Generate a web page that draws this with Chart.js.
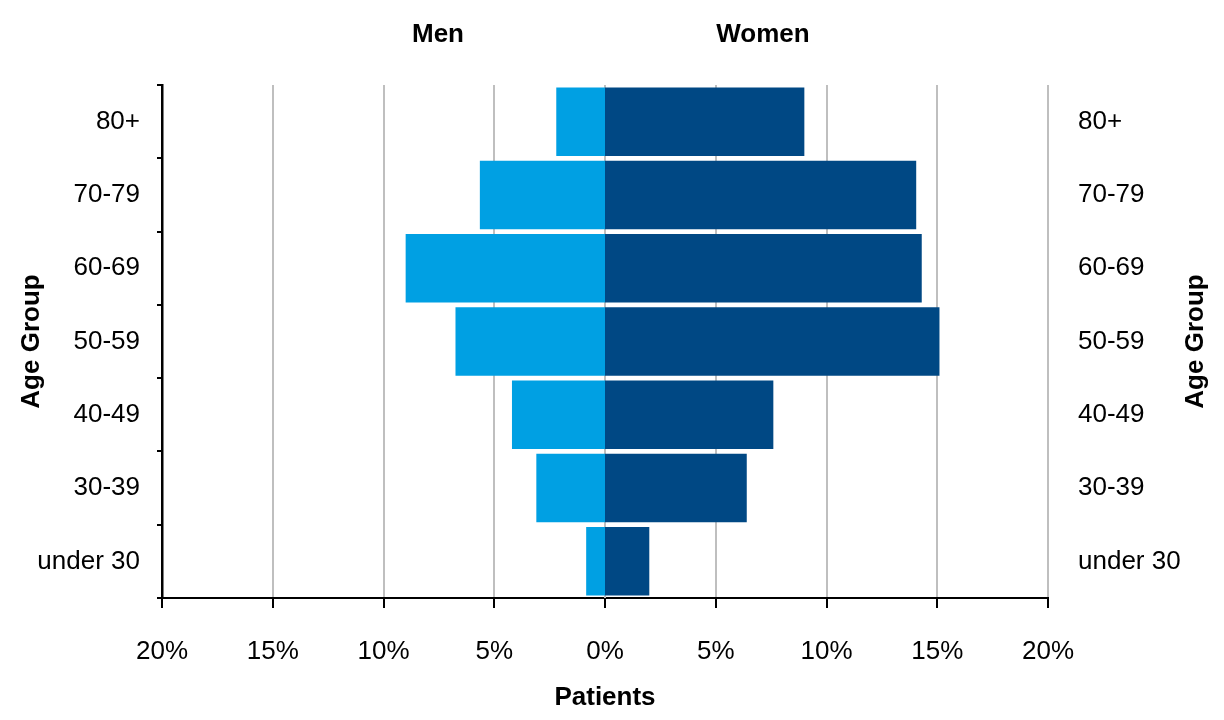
<!DOCTYPE html>
<html>
<head>
<meta charset="utf-8">
<script src="https://cdn.jsdelivr.net/npm/chart.js@4/dist/chart.umd.min.js"></script>
<style>
  html, body { margin: 0; padding: 0; background: #fff; }
  #wrap { width: 1224px; height: 720px; position: relative; }
</style>
</head>
<body>
<div id="wrap"><canvas id="pyramid"></canvas></div>
<script>
// Age groups, top to bottom
const ageGroups = ['80+', '70-79', '60-69', '50-59', '40-49', '30-39', 'under 30'];
// Share of patients (%) per age group
const menShare   = [2.2, 5.65, 9.0, 6.75, 4.2, 3.1, 0.85];
const womenShare = [9.0, 14.05, 14.3, 15.1, 7.6, 6.4, 2.0];
// Axis ticks (%)
const xTicks = [-20, -15, -10, -5, 0, 5, 10, 15, 20];

const FONT = 'Liberation Sans, Arial, Helvetica, sans-serif';
const GRID_GREY = '#BFBFBF';

// The 0% grid line sits behind the bars; drawn here so the bars meet at zero without a seam
const zeroLinePlugin = {
  id: 'zeroLine',
  beforeDatasetsDraw(chart) {
    const { ctx, chartArea, scales } = chart;
    const x0 = Math.round(scales.x.getPixelForValue(0));
    ctx.save();
    ctx.strokeStyle = GRID_GREY;
    ctx.lineWidth = 2;
    ctx.beginPath();
    ctx.moveTo(x0, chartArea.top);
    ctx.lineTo(x0, chartArea.bottom);
    ctx.stroke();
    ctx.restore();
  }
};

// Side headings above the pyramid and the mirrored axis title on the right
const headingsPlugin = {
  id: 'headings',
  afterDraw(chart) {
    const { ctx, chartArea } = chart;
    ctx.save();
    ctx.fillStyle = '#000';
    ctx.font = 'bold 26px ' + FONT;
    ctx.textAlign = 'center';
    ctx.textBaseline = 'middle';
    ctx.fillText('Men', 438, 35);
    ctx.fillText('Women', 763, 35);
    // right-hand "Age Group", reading bottom to top like the left one
    const cy = (chartArea.top + chartArea.bottom) / 2;
    ctx.translate(1196, cy);
    ctx.rotate(-Math.PI / 2);
    ctx.fillText('Age Group', 0, 0);
    ctx.restore();
  }
};

new Chart(document.getElementById('pyramid'), {
  type: 'bar',
  data: {
    labels: ageGroups,
    datasets: [
      {
        label: 'Men',
        data: menShare.map(v => -v),
        backgroundColor: '#00A0E3',
        barPercentage: 0.935,
        categoryPercentage: 1.0
      },
      {
        label: 'Women',
        data: womenShare,
        backgroundColor: '#004884',
        barPercentage: 0.935,
        categoryPercentage: 1.0
      }
    ]
  },
  options: {
    indexAxis: 'y',
    responsive: true,
    maintainAspectRatio: false,
    animation: false,
    layout: { padding: { top: 85, left: 0, right: 0, bottom: 0 } },
    plugins: {
      legend: { display: false },
      tooltip: { enabled: false }
    },
    scales: {
      x: {
        stacked: true,
        min: -20,
        max: 20,
        afterBuildTicks(scale) { scale.ticks = xTicks.map(v => ({ value: v })); },
        afterFit(scale) { scale.height = 122; },
        ticks: {
          color: '#000',
          font: { family: FONT, size: 26 },
          padding: 28,
          maxRotation: 0,
          callback: v => Math.abs(v) + '%'
        },
        grid: {
          color: GRID_GREY,
          lineWidth: c => (c.tick && c.tick.value === 0 ? 0 : 2),
          tickColor: '#000',
          tickWidth: 2,
          tickLength: 10
        },
        border: { display: true, color: '#000', width: 2 },
        title: {
          display: true,
          text: 'Patients',
          color: '#000',
          font: { family: FONT, size: 26, weight: 'bold' },
          padding: 7
        }
      },
      y: {
        stacked: true,
        position: 'left',
        afterFit(scale) { scale.width = 162; },
        ticks: {
          color: '#000',
          font: { family: FONT, size: 26 },
          padding: 17
        },
        grid: {
          drawOnChartArea: false,
          color: '#000',
          lineWidth: 2,
          tickLength: 5
        },
        border: { display: true, color: '#000', width: 2.5 },
        title: {
          display: true,
          text: 'Age Group',
          color: '#000',
          font: { family: FONT, size: 26, weight: 'bold' },
          padding: 16
        }
      },
      y2: {
        type: 'category',
        labels: ageGroups,
        position: 'right',
        afterFit(scale) { scale.width = 176; },
        ticks: {
          color: '#000',
          font: { family: FONT, size: 26 },
          padding: 30,
          crossAlign: 'near'
        },
        grid: { display: false, drawTicks: false },
        border: { display: false }
      }
    }
  },
  plugins: [zeroLinePlugin, headingsPlugin]
});
</script>
</body>
</html>
